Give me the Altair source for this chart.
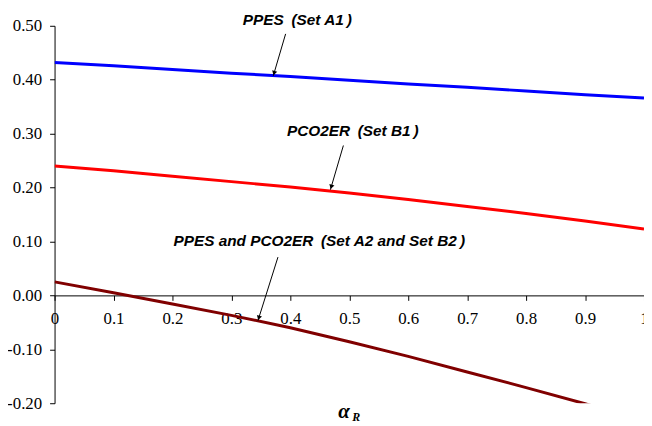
import altair as alt
import pandas as pd
import math

# ---- data ----
alpha = [0.0, 0.1, 0.2, 0.3, 0.4, 0.5, 0.6, 0.7, 0.8, 0.9, 1.0]
ppes_a1 = [0.432, 0.426, 0.419, 0.412, 0.406, 0.399, 0.392, 0.386, 0.379, 0.372, 0.366]
pco2er_b1 = [0.240, 0.231, 0.221, 0.211, 0.201, 0.190, 0.178, 0.165, 0.152, 0.138, 0.123]
set_a2_b2 = [0.025, 0.005, -0.016, -0.037, -0.060, -0.086, -0.113, -0.142, -0.171, -0.201, -0.232]

series_names = ["PPES (Set A1)", "PCO2ER (Set B1)", "PPES and PCO2ER (Set A2 and Set B2)"]
series_colors = ["#0000FF", "#FF0000", "#800000"]

x_ticks = [0, 0.1, 0.2, 0.3, 0.4, 0.5, 0.6, 0.7, 0.8, 0.9, 1]
y_ticks = [-0.2, -0.1, 0.0, 0.1, 0.2, 0.3, 0.4, 0.5]

# annotation labels (text, alpha, value)
label_text = [
    "PPES\u2002(Set A1\u2009)",
    "PCO2ER\u2002(Set B1\u2009)",
    "PPES and PCO2ER\u2002(Set A2 and Set B2\u2009)",
]
label_x = [0.412, 0.506, 0.449]
label_y = [0.511, 0.305, 0.100]

# arrows: start (alpha, value) -> tip (alpha, value)
arrow_x1 = [0.392, 0.490, 0.379]
arrow_y1 = [0.485, 0.278, 0.071]
arrow_x2 = [0.371, 0.468, 0.345]
arrow_y2 = [0.407, 0.196, -0.047]

W, H = 595, 381
Y_MIN, Y_MAX = -0.2, 0.5
SERIF = "Liberation Serif"


def px(a):
    return a * W


def py(v):
    return (Y_MAX - v) / (Y_MAX - Y_MIN) * H


rows = []
for name, vals in zip(series_names, [ppes_a1, pco2er_b1, set_a2_b2]):
    for a, v in zip(alpha, vals):
        rows.append({"alpha": a, "value": v, "series": name})
df = pd.DataFrame(rows)

lab_df = pd.DataFrame({"alpha": label_x, "value": label_y, "text": label_text})

arr_rows = []
head_rows = []
for x1, y1, x2, y2 in zip(arrow_x1, arrow_y1, arrow_x2, arrow_y2):
    arr_rows.append({"alpha": x1, "value": y1, "alpha2": x2, "value2": y2})
    dxp = px(x2) - px(x1)
    dyp = py(y2) - py(y1)
    L = math.hypot(dxp, dyp)
    ang = math.degrees(math.atan2(-dxp, dyp))
    if ang < 0:
        ang += 360
    back = 3.0 / L
    hx = x2 + (x1 - x2) * back
    hy = y2 + (y1 - y2) * back
    head_rows.append({"alpha": hx, "value": hy, "angle": ang})
arr_df = pd.DataFrame(arr_rows)
head_df = pd.DataFrame(head_rows)

title_df = pd.DataFrame({"alpha": [0.491], "value": [-0.216], "text": ["α"]})
sub_df = pd.DataFrame({"alpha": [0.505], "value": [-0.226], "text": ["R"]})

xs = alt.Scale(domain=[0, 1], nice=False, zero=False)
ys = alt.Scale(domain=[Y_MIN, Y_MAX], nice=False, zero=False)

axis_common = dict(
    title=None,
    grid=False,
    labelOverlap=False,
    labelFont=SERIF,
    labelFontSize=17,
    labelColor="black",
    tickSize=5,
    tickColor="black",
    domainColor="black",
)


def X():
    return alt.X("alpha:Q", scale=xs, axis=alt.Axis(
        values=x_ticks,
        offset=-H * (0 - Y_MIN) / (Y_MAX - Y_MIN),
        labelExpr="datum.value == 0 ? '0' : datum.value == 1 ? '1' : format(datum.value, '.1f')",
        labelFlush=False,
        labelPadding=10,
        **axis_common,
    ))


def Y():
    return alt.Y("value:Q", scale=ys, axis=alt.Axis(
        values=y_ticks,
        labelExpr="(datum.value < 0 ? '-' : '') + format(abs(datum.value), '.2f')",
        labelPadding=8,
        **axis_common,
    ))


lines = alt.Chart(df).mark_line(strokeWidth=3, clip=True).encode(
    x=X(), y=Y(),
    color=alt.Color("series:N", scale=alt.Scale(domain=series_names, range=series_colors), legend=None),
)

labels = alt.Chart(lab_df).mark_text(
    font="Liberation Sans", fontWeight="bold", fontStyle="italic", fontSize=15.5,
    color="black", align="center", baseline="middle",
).encode(x=X(), y=Y(), text="text:N")

arrows = alt.Chart(arr_df).mark_rule(color="black", strokeWidth=1).encode(
    x=X(), y=Y(), x2="alpha2:Q", y2="value2:Q",
)

heads = alt.Chart(head_df).mark_point(
    shape="triangle-down", filled=True, size=28, color="black", opacity=1,
).encode(x=X(), y=Y(), angle=alt.Angle("angle:Q", scale=None))

title_a = alt.Chart(title_df).mark_text(
    font=SERIF, fontWeight="bold", fontStyle="italic", fontSize=21,
    color="black", align="center", baseline="middle",
).encode(x=X(), y=Y(), text="text:N")

title_r = alt.Chart(sub_df).mark_text(
    font=SERIF, fontWeight="bold", fontStyle="italic", fontSize=12,
    color="black", align="left", baseline="middle",
).encode(x=X(), y=Y(), text="text:N")

chart = alt.layer(lines, arrows, heads, labels, title_a, title_r).properties(
    width=W,
    height=H,
    autosize=alt.AutoSizeParams(type="none"),
    padding={"left": 47, "top": 16, "right": 0, "bottom": 18},
).configure_view(stroke=None).configure_axis(
    labelFont=SERIF,
    labelFontSize=17,
    labelColor="black",
    tickColor="black",
    domainColor="black",
    grid=False,
)

chart.save("out.html", embed_options={"renderer": "svg", "actions": False})
